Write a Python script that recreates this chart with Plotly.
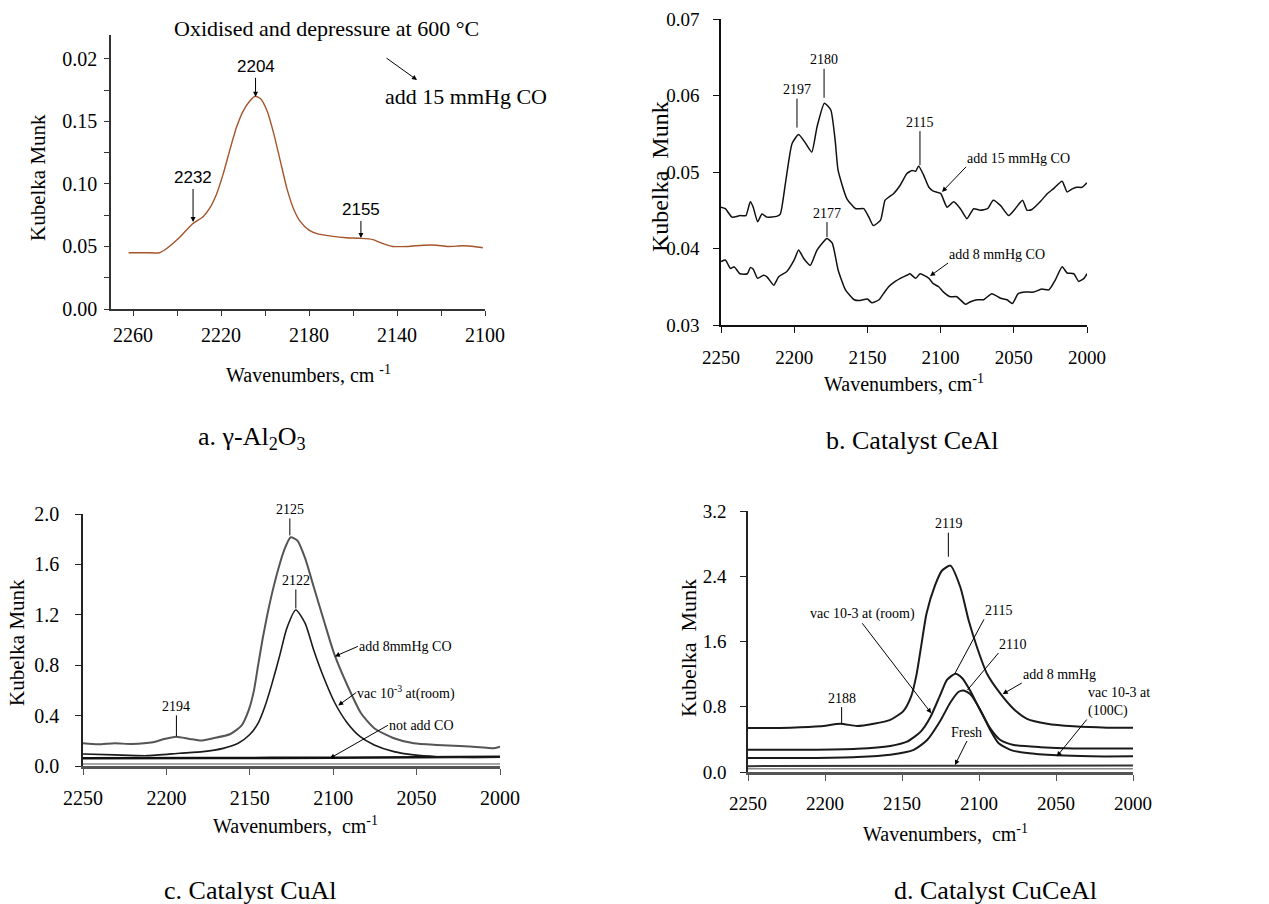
import plotly.graph_objects as go

W, H = 1269, 904
SERIF = "Liberation Serif"
SANS = "Liberation Sans"

# ---------------- Panel a: gamma-Al2O3 ----------------
wn_a = [2262, 2255, 2248, 2245, 2239, 2233, 2228, 2225, 2222, 2219, 2216, 2213, 2210, 2207, 2204.5,
        2202, 2199, 2196, 2193, 2190, 2187, 2184, 2180, 2176, 2169, 2163, 2157, 2151, 2146, 2142,
        2135, 2128, 2122, 2117, 2110, 2105, 2101]
km_a = [0.045, 0.045, 0.045, 0.048, 0.057, 0.068, 0.074, 0.081, 0.092, 0.108, 0.127, 0.145, 0.158, 0.166, 0.170,
        0.168, 0.158, 0.140, 0.118, 0.096, 0.080, 0.070, 0.063, 0.060, 0.058, 0.057, 0.0565, 0.0555, 0.052, 0.050,
        0.050, 0.051, 0.051, 0.050, 0.0505, 0.050, 0.049]
xt_a_vals = [2260, 2220, 2180, 2140, 2100]
xt_a_text = ["2260", "2220", "2180", "2140", "2100"]
xt_a_minor = [2240, 2200, 2160, 2120]
yt_a_vals = [0, 0.05, 0.10, 0.15, 0.20]
yt_a_text = ["0.00", "0.05", "0.10", "0.15", "0.02"]
yt_a_minor = [0.025, 0.075, 0.125, 0.175]

# ---------------- Panel b: CeAl ----------------
wn_b15 = [2250, 2247, 2242.5, 2237, 2233, 2230, 2228, 2225, 2222, 2218.6, 2212, 2209.5, 2206, 2201.5,
          2197, 2192, 2188, 2184.4, 2179.4, 2175, 2172, 2170, 2164, 2158, 2152.5, 2149, 2146, 2141,
          2138, 2135.5, 2132, 2127.5, 2123, 2119.5, 2117, 2115, 2111.6, 2108, 2105, 2100, 2095.6,
          2091, 2086.5, 2082, 2077.4, 2073, 2068, 2064, 2059, 2053.5, 2049, 2044, 2041, 2037.6, 2032,
          2027, 2023, 2017, 2013.6, 2010, 2007, 2003.4, 2000]
km_b15 = [0.0454, 0.0452, 0.0441, 0.0443, 0.0443, 0.0461, 0.0454, 0.0435, 0.0445, 0.0441, 0.0442, 0.0445,
          0.0485, 0.0537, 0.0549, 0.0537, 0.0526, 0.0559, 0.0590, 0.0581, 0.0541, 0.0502, 0.0465, 0.0452,
          0.0452, 0.0441, 0.0430, 0.0437, 0.0463, 0.0467, 0.0472, 0.0483, 0.0498, 0.0502, 0.0501, 0.0508,
          0.0496, 0.0480, 0.0475, 0.0472, 0.0454, 0.0461, 0.0452, 0.0439, 0.0452, 0.0450, 0.0452, 0.0463,
          0.0456, 0.0443, 0.0452, 0.0463, 0.0450, 0.0451, 0.0461, 0.0472, 0.0478, 0.0488, 0.0474, 0.0478,
          0.0480, 0.0480, 0.0486]
wn_b8 = [2250, 2247, 2243.6, 2241, 2237, 2232, 2230, 2228, 2225, 2221, 2218.6, 2214, 2210.6, 2205, 2200,
         2197, 2193.5, 2189, 2184.4, 2177.6, 2174, 2170, 2165, 2159, 2155, 2150, 2147, 2142, 2139, 2135.5,
         2131, 2127.5, 2123, 2121, 2117, 2114, 2108, 2105, 2101.3, 2098, 2093.4, 2089, 2083, 2080, 2075,
         2070.6, 2065, 2059, 2054.6, 2051, 2047, 2042, 2036.4, 2031, 2026, 2021.6, 2017, 2013.6, 2009,
         2005.7, 2002, 2000]
km_b8 = [0.0383, 0.0385, 0.0374, 0.0376, 0.0367, 0.0367, 0.0375, 0.0373, 0.0361, 0.0365, 0.0363, 0.0352,
         0.0363, 0.0370, 0.0385, 0.0398, 0.0387, 0.0378, 0.0398, 0.0413, 0.0407, 0.0372, 0.0346, 0.0333,
         0.0332, 0.0334, 0.0329, 0.0333, 0.0341, 0.0350, 0.0357, 0.0361, 0.0365, 0.0367, 0.0361, 0.0367,
         0.0361, 0.0354, 0.0350, 0.0343, 0.0337, 0.0337, 0.0327, 0.0330, 0.0333, 0.0333, 0.0341, 0.0335,
         0.0333, 0.0328, 0.0341, 0.0343, 0.0343, 0.0347, 0.0346, 0.0359, 0.0376, 0.0368, 0.0367, 0.0357,
         0.0361, 0.0367]
xt_b_vals = [2250, 2200, 2150, 2100, 2050, 2000]
yt_b_vals = [0.03, 0.04, 0.05, 0.06, 0.07]
yt_b_text = ["0.03", "0.04", "0.05", "0.06", "0.07"]

# ---------------- Panel c: CuAl ----------------
wn_c_add8 = [2250, 2241, 2231, 2221, 2208, 2202, 2194, 2186, 2179, 2172, 2162, 2155, 2150.5, 2147.5,
             2145, 2142.3, 2139.5, 2136.5, 2133, 2129.5, 2125.5, 2121.5, 2116.8, 2111.7, 2105.7, 2099.5,
             2091.2, 2083.3, 2075.4, 2063.6, 2051.7, 2037.9, 2024.1, 2012.3, 2004.4, 2000]
km_c_add8 = [0.180, 0.172, 0.180, 0.175, 0.188, 0.212, 0.233, 0.215, 0.202, 0.220, 0.252, 0.32, 0.45, 0.60,
             0.80, 1.01, 1.20, 1.38, 1.56, 1.71, 1.815, 1.79, 1.648, 1.423, 1.159, 0.894,
             0.631, 0.419, 0.300, 0.220, 0.180, 0.167, 0.159, 0.149, 0.141, 0.154]
wn_c_vac = [2250, 2231, 2211.5, 2192, 2178, 2166, 2157, 2150, 2145, 2141, 2137, 2132, 2127.9, 2122.4,
            2116.8, 2111.7, 2105.6, 2099, 2092, 2084, 2075.4, 2063.6, 2051.7, 2037.9, 2024.1, 2000]
km_c_vac = [0.095, 0.088, 0.082, 0.101, 0.114, 0.14, 0.18, 0.25, 0.34, 0.47, 0.64, 0.88, 1.09, 1.238,
            1.132, 0.921, 0.70, 0.50, 0.35, 0.235, 0.167, 0.114, 0.088, 0.074, 0.069, 0.069]
wn_c_none = [2250, 2175, 2100, 2000]
km_c_none = [0.061, 0.063, 0.066, 0.074]
wn_c_base = [2250, 2000]
km_c_base = [0.016, 0.016]
yt_c_vals = [0.0, 0.4, 0.8, 1.2, 1.6, 2.0]
yt_c_text = ["0.0", "0.4", "0.8", "1.2", "1.6", "2.0"]

# ---------------- Panel d: CuCeAl ----------------
wn_d_add8 = [2250, 2222.5, 2203, 2190, 2179.2, 2168.4, 2157.6, 2149, 2144, 2140.5, 2137.5, 2134,
             2128.5, 2124, 2118.6, 2112.1, 2106.7, 2101.3, 2094.8, 2086.1, 2077.5, 2068.8, 2055.8,
             2038.5, 2016.8, 2000]
km_d_add8 = [0.54, 0.544, 0.56, 0.592, 0.564, 0.592, 0.64, 0.75, 0.93, 1.2, 1.55, 1.95,
             2.29, 2.47, 2.53, 2.265, 1.857, 1.53, 1.204, 0.96, 0.772, 0.652, 0.592,
             0.56, 0.544, 0.544]
wn_d_room = [2250, 2211.7, 2179.2, 2157.6, 2146.7, 2138, 2131.6, 2125, 2120.7, 2115.3, 2111, 2105.6,
             2099.1, 2092.6, 2086.1, 2077.5, 2060.1, 2038.5, 2000]
km_d_room = [0.272, 0.272, 0.284, 0.32, 0.372, 0.492, 0.672, 0.952, 1.132, 1.204, 1.152, 0.992,
             0.752, 0.532, 0.392, 0.332, 0.304, 0.288, 0.288]
wn_d_100c = [2250, 2211.7, 2179.2, 2157.6, 2142.4, 2133.7, 2125, 2118.6, 2113.2, 2110, 2105.6, 2099.1,
             2092.6, 2087.2, 2079.6, 2068.8, 2049.3, 2027.7, 2000]
km_d_100c = [0.172, 0.172, 0.184, 0.212, 0.272, 0.392, 0.632, 0.852, 0.984, 1.0, 0.952, 0.76,
             0.512, 0.352, 0.272, 0.232, 0.204, 0.192, 0.192]
wn_d_fresh = [2250, 2125, 2000]
km_d_fresh = [0.072, 0.076, 0.080]
wn_d_base = [2250, 2000]
km_d_base = [0.04, 0.04]
yt_d_vals = [0.0, 0.8, 1.6, 2.4, 3.2]
yt_d_text = ["0.0", "0.8", "1.6", "2.4", "3.2"]

xt_cd_vals = [2250, 2200, 2150, 2100, 2050, 2000]

fig = go.Figure()


def add_line(x, y, xa, ya, color, width, smooth=0.6):
    fig.add_trace(go.Scatter(x=x, y=y, xaxis=xa, yaxis=ya, mode="lines",
                             line=dict(color=color, width=width, shape="spline", smoothing=smooth),
                             showlegend=False, hoverinfo="skip"))


add_line(wn_a, km_a, "x", "y", "#a5542a", 1.4)
add_line(wn_b15, km_b15, "x2", "y2", "#111111", 1.5, 0.5)
add_line(wn_b8, km_b8, "x2", "y2", "#111111", 1.5, 0.5)
add_line(wn_c_base, km_c_base, "x3", "y3", "#8a8a8a", 1.5)
add_line(wn_c_none, km_c_none, "x3", "y3", "#111111", 2.6)
add_line(wn_c_vac, km_c_vac, "x3", "y3", "#1a1a1a", 1.6)
add_line(wn_c_add8, km_c_add8, "x3", "y3", "#555555", 2.0)
add_line(wn_d_base, km_d_base, "x4", "y4", "#8a8a8a", 1.5)
add_line(wn_d_fresh, km_d_fresh, "x4", "y4", "#333333", 2.0)
add_line(wn_d_100c, km_d_100c, "x4", "y4", "#1a1a1a", 2.0)
add_line(wn_d_room, km_d_room, "x4", "y4", "#1a1a1a", 2.0)
add_line(wn_d_add8, km_d_add8, "x4", "y4", "#1a1a1a", 2.0)


def axis(px0, px1, rng, vals, text, anchor, vertical, size=19, lw=1.5, lc="#222", standoff=None, ticklen=5,
         minor_vals=None):
    if vertical:
        dom = [1 - px1 / H, 1 - px0 / H]
    else:
        dom = [px0 / W, px1 / W]
    d = dict(domain=dom, range=rng, anchor=anchor, tickmode="array", tickvals=vals, ticktext=text,
             ticks="outside", ticklen=ticklen, tickwidth=1.3, tickcolor=lc, showline=True, linecolor=lc,
             linewidth=lw, showgrid=False, zeroline=False, fixedrange=True, automargin=False,
             tickfont=dict(family=SERIF, size=size, color="black"))
    if minor_vals is not None:
        d["minor"] = dict(tickmode="array", tickvals=minor_vals, ticks="outside", ticklen=ticklen,
                          tickwidth=1.3, tickcolor=lc, showgrid=False)
    if standoff is not None:
        d["ticklabelstandoff"] = standoff
    return d


layout = dict(
    width=W, height=H, autosize=False, margin=dict(l=0, r=0, t=0, b=0, pad=0, autoexpand=False),
    paper_bgcolor="white", plot_bgcolor="white",
    xaxis=axis(111, 485, [2270, 2100], xt_a_vals, xt_a_text, "y", False, 20, 1.5, "#333", 2,
               minor_vals=xt_a_minor),
    yaxis=axis(35, 309, [0, 0.219], yt_a_vals, yt_a_text, "x", True, 20, 1.5, "#333", 3,
               minor_vals=yt_a_minor),
    xaxis2=axis(721, 1087, [2250, 2000], xt_b_vals, [str(v) for v in xt_b_vals], "y2", False, 19, 2, "#111", 8, 6),
    yaxis2=axis(19, 325, [0.03, 0.07], yt_b_vals, yt_b_text, "x2", True, 19, 1.5, "#111", 10, 6),
    xaxis3=axis(83, 500, [2250, 2000], xt_cd_vals, [str(v) for v in xt_cd_vals], "y3", False, 20, 2.5, "#555", 6, 6),
    yaxis3=axis(514, 766, [0, 2.0], yt_c_vals, yt_c_text, "x3", True, 20, 1.5, "#222", 12, 6),
    xaxis4=axis(748, 1133, [2250, 2000], xt_cd_vals, [str(v) for v in xt_cd_vals], "y4", False, 19, 2.5, "#555", 6, 6),
    yaxis4=axis(511, 772, [0, 3.2], yt_d_vals, yt_d_text, "x4", True, 19, 1.5, "#222", 10, 6),
)
fig.update_layout(**layout)

ann = []


def text_px(t, x, y, size, family=SERIF, angle=0):
    ann.append(dict(text=t, x=x / W, y=1 - y / H, xref="paper", yref="paper", showarrow=False,
                    xanchor="center", yanchor="middle", textangle=angle,
                    font=dict(family=family, size=size, color="black")))


def peak(t, xr, yr, x, y, ay, size, family=SERIF, head=0, ax=0):
    ann.append(dict(text=t, x=x, y=y, xref=xr, yref=yr, showarrow=True, arrowhead=head, arrowsize=1,
                    arrowwidth=1, arrowcolor="black", ax=ax, ay=ay, standoff=0,
                    font=dict(family=family, size=size, color="black")))


def callout(t, xr, yr, x, y, ax, ay, xanchor, yanchor, head=2, size=14, align="left"):
    # label whose anchor corner is the tail of the leader line / arrow
    ann.append(dict(text=t, x=x, y=y, xref=xr, yref=yr, showarrow=True, arrowhead=head, arrowsize=1,
                    arrowwidth=1, arrowcolor="black", ax=ax, ay=ay, xanchor=xanchor, yanchor=yanchor,
                    align=align, borderpad=0, font=dict(family=SERIF, size=size, color="black")))


# Panel a texts
text_px("Oxidised and depressure at 600 °C", 326, 28, 22)
ann.append(dict(text="add 15 mmHg CO", x=417 / W, y=1 - 80 / H, xref="paper", yref="paper", showarrow=True,
                arrowhead=2, arrowsize=1, arrowwidth=1, arrowcolor="black", ax=-32, ay=-23,
                startstandoff=0, standoff=0, xanchor="right", yanchor="bottom",
                font=dict(family=SERIF, size=22, color="rgba(0,0,0,0)"), visible=False))
ann.append(dict(text="", x=417 / W, y=1 - 80 / H, xref="paper", yref="paper", showarrow=True,
                arrowhead=2, arrowsize=1, arrowwidth=1, arrowcolor="black", ax=-32, ay=-23))
text_px("add 15 mmHg CO", 466, 97, 22)
peak("2204", "x", "y", 2204.3, 0.1696, -30, 17, SANS, 2)
peak("2232", "x", "y", 2232.7, 0.0696, -44, 17, SANS, 2)
peak("2155", "x", "y", 2156.4, 0.0568, -28, 17, SANS, 2)
text_px("Kubelka Munk", 38, 178, 21, angle=-90)
text_px("Wavenumbers, cm <sup>-1</sup>", 308, 374, 20)
text_px("a. γ-Al<sub>2</sub>O<sub>3</sub>", 252, 438, 26)

# Panel b texts
peak("2197", "x2", "y2", 2198.1, 0.0558, -38, 14)
peak("2180", "x2", "y2", 2179.6, 0.0597, -38, 14)
peak("2115", "x2", "y2", 2114.1, 0.0509, -43, 14)
peak("2177", "x2", "y2", 2177.6, 0.0415, -24, 14)
callout("add 15 mmHg CO", "x2", "y2", 2099.0, 0.0474, 24, -25, "left", "bottom")
callout("add 8 mmHg CO", "x2", "y2", 2107.2, 0.0364, 18, -13, "left", "bottom")
text_px("Kubelka  Munk", 660, 177, 24, angle=-90)
text_px("Wavenumbers, cm<sup>-1</sup>", 904, 383, 20)
text_px("b. Catalyst CeAl", 912, 440, 26)

# Panel c texts
peak("2125", "x3", "y3", 2126.0, 1.83, -26, 14)
peak("2122", "x3", "y3", 2122.4, 1.25, -28, 14)
peak("2194", "x3", "y3", 2194.0, 0.235, -30, 14)
callout("add 8mmHg CO", "x3", "y3", 2099.0, 0.87, 23, -10, "left", "middle")
callout("vac 10<sup>-3</sup> at(room)", "x3", "y3", 2097.0, 0.48, 18, -13, "left", "middle")
callout("not add CO", "x3", "y3", 2102.0, 0.061, 58, -33, "left", "middle")
text_px("Kubelka Munk", 17, 643, 21, angle=-90)
text_px("Wavenumbers,  cm<sup>-1</sup>", 295, 825, 20)
text_px("c. Catalyst CuAl", 250, 890, 26)

# Panel d texts
peak("2119", "x4", "y4", 2119.9, 2.64, -33, 14)
peak("2188", "x4", "y4", 2189.2, 0.60, -25, 14)
callout("vac 10-3 at (room)", "x4", "y4", 2131.0, 0.72, -69, -90, "center", "bottom")
callout("2115", "x4", "y4", 2115.6, 1.21, 29, -54, "left", "bottom", head=0)
callout("2110", "x4", "y4", 2107.5, 1.005, 31, -37, "left", "bottom", head=0)
callout("add 8 mmHg", "x4", "y4", 2084.6, 0.956, 19, -11, "left", "bottom")
callout("vac 10-3 at<br>(100C)", "x4", "y4", 2049.5, 0.19, 30, -37, "left", "bottom")
callout("Fresh", "x4", "y4", 2115.6, 0.086, 12, -24, "center", "bottom")
text_px("Kubelka  Munk", 688, 648, 22, angle=-90)
text_px("Wavenumbers,  cm<sup>-1</sup>", 945, 833, 20)
text_px("d. Catalyst CuCeAl", 995, 890, 26)

# drop the invisible helper (kept only the plain arrow)
ann = [a for a in ann if a.get("visible", True)]
fig.update_layout(annotations=ann)
fig.write_html("out.html")
